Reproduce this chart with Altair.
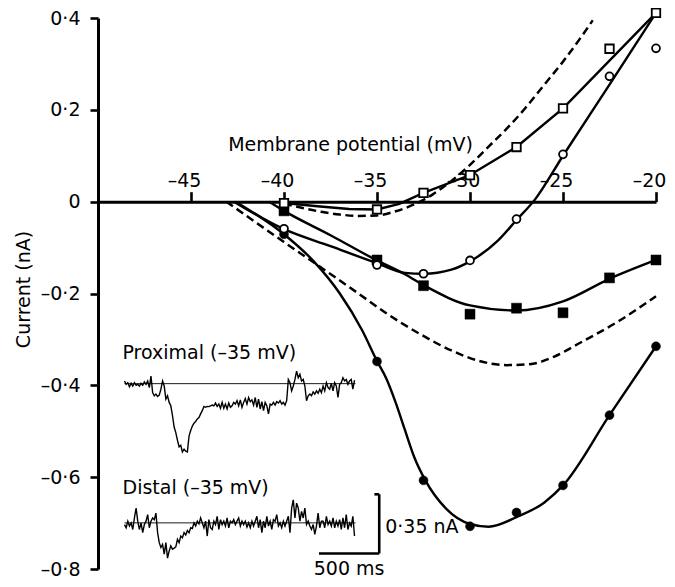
import altair as alt
import pandas as pd

FONT = "DejaVu Sans"
FS = 19
INK = "black"

# ---------------- measured points (membrane potential mV, current nA) ----------------
volt = [-40, -35, -32.5, -30, -27.5, -25, -22.5, -20]
open_square = [-0.003, -0.017, 0.019, 0.058, 0.119, 0.203, 0.333, 0.411]
open_circle = [-0.059, -0.138, -0.157, -0.128, -0.038, 0.103, 0.273, 0.334]
filled_square = [-0.020, -0.127, -0.183, -0.245, -0.232, -0.242, -0.166, -0.127]
filled_circle = [-0.071, -0.348, -0.607, -0.707, -0.677, -0.618, -0.465, -0.315]

# ---------------- drawn curves ----------------
sq_line_v = [-40, -38.2, -36.5, -35, -33.8, -32.5, -30, -27.5, -25, -20]
sq_line_i = [-0.003, -0.010, -0.016, -0.017, -0.005, 0.019, 0.058, 0.119, 0.203, 0.411]

oc_line_v = [-42.7, -40, -37.5, -35, -33.5, -32.5, -31, -30, -28.5, -27.5, -26.5, -25, -22.5, -20]
oc_line_i = [0, -0.06, -0.097, -0.134, -0.155, -0.157, -0.148, -0.130, -0.085, -0.04, 0.005, 0.10, 0.255, 0.411]

fs_line_v = [-40.8, -40, -37.5, -35, -33.5, -32.4, -30, -27.5, -25, -22.5, -20]
fs_line_i = [0, -0.02, -0.073, -0.128, -0.158, -0.184, -0.226, -0.237, -0.217, -0.168, -0.127]

fc_line_v = [-42.6, -40, -38.4, -37, -35.8, -35, -34.5, -34, -33.5, -33, -32.4, -31.3, -30, -29,
             -27.5, -26, -25, -22.5, -20]
fc_line_i = [0, -0.071, -0.13, -0.2, -0.28, -0.347, -0.385, -0.437, -0.497, -0.556, -0.607, -0.668,
             -0.702, -0.708, -0.687, -0.655, -0.618, -0.465, -0.315]

dash_hi_v = [-40, -39, -38, -37, -36, -35, -34, -33, -32.5, -32, -31, -30, -29, -28, -27, -26, -25,
             -24, -23.4]
dash_hi_i = [-0.004, -0.014, -0.022, -0.028, -0.031, -0.030, -0.021, -0.006, 0.004, 0.016, 0.045,
             0.08, 0.12, 0.16, 0.205, 0.255, 0.305, 0.36, 0.395]

dash_lo_v = [-43.1, -40, -38.2, -36, -34.5, -32.7, -31, -29.5, -28, -26.8, -25.5, -24.2, -22, -20]
dash_lo_i = [0, -0.088, -0.138, -0.2, -0.243, -0.288, -0.324, -0.347, -0.356, -0.354, -0.338,
             -0.31, -0.26, -0.206]

# ---------------- inset current traces (nA relative to baseline, sampled every 13.74 ms) ----------------
SAMPLE_MS = 13.74
proximal_nA = [
    0.016, -0.004, 0.006, -0.018, 0.002, -0.014, 0.006, -0.010, -0.004, -0.014,
    0.002, -0.010, 0.010, -0.004, 0.016, -0.023, 0.045, -0.053, -0.072, -0.062,
    -0.076, -0.068, -0.033, 0.016, -0.014, -0.092, -0.072, -0.111, -0.131, -0.189,
    -0.257, -0.290, -0.335, -0.374, -0.365, -0.404, -0.388, -0.400, -0.404, -0.310,
    -0.277, -0.251, -0.234, -0.224, -0.209, -0.201, -0.179, -0.160, -0.135, -0.140,
    -0.135, -0.136, -0.131, -0.127, -0.131, -0.115, -0.135, -0.121, -0.146, -0.111,
    -0.146, -0.121, -0.150, -0.115, -0.140, -0.131, -0.111, -0.121, -0.101, -0.131,
    -0.096, -0.140, -0.111, -0.088, -0.121, -0.082, -0.107, -0.096, -0.127, -0.082,
    -0.140, -0.092, -0.150, -0.107, -0.160, -0.111, -0.131, -0.179, -0.121, -0.127,
    -0.111, -0.127, -0.107, -0.115, -0.101, -0.121, -0.111, -0.127, -0.101, 0.025,
    0.006, -0.043, -0.014, 0.025, 0.074, 0.035, 0.055, 0.016, 0.025, -0.014,
    -0.101, -0.072, -0.062, -0.072, -0.049, -0.062, -0.043, -0.057, -0.033, -0.053,
    -0.014, -0.043, 0.006, -0.023, -0.033, 0.002, -0.043, 0.006, -0.014, -0.082,
    -0.004, 0.006, 0.035, 0.016, 0.025, -0.004, 0.016, 0.025, -0.033, 0.021,
]
distal_nA = [
    -0.010, -0.029, 0.010, -0.019, 0.000, -0.039, 0.029, 0.088, 0.010, -0.039,
    0.000, -0.058, -0.010, 0.010, 0.049, -0.029, 0.010, 0.029, 0.019, 0.058,
    -0.058, -0.117, -0.146, -0.127, -0.185, -0.117, -0.209, -0.166, -0.136, -0.156,
    -0.150, -0.142, -0.097, -0.117, -0.078, -0.088, -0.058, -0.072, -0.045, -0.058,
    -0.029, -0.033, 0.000, -0.019, 0.010, -0.006, 0.029, 0.000, -0.029, 0.010,
    -0.078, 0.019, -0.029, -0.039, 0.010, -0.010, 0.039, -0.039, 0.019, -0.010,
    0.010, -0.019, 0.029, -0.029, 0.010, 0.000, 0.019, -0.010, 0.010, 0.029,
    -0.019, 0.010, -0.010, 0.010, -0.025, 0.000, -0.029, 0.010, -0.019, 0.010,
    0.039, -0.029, 0.019, -0.058, 0.010, -0.029, 0.039, -0.019, 0.010, -0.039,
    0.019, 0.010, 0.049, -0.019, 0.000, -0.029, 0.010, -0.019, 0.010, 0.039,
    -0.058, 0.088, 0.136, 0.029, 0.117, 0.088, 0.010, 0.068, 0.029, 0.088,
    -0.010, 0.010, -0.019, -0.039, -0.010, -0.068, -0.019, 0.058, -0.029, 0.010,
    0.010, -0.029, 0.039, -0.010, 0.010, -0.019, 0.029, -0.029, 0.010, -0.019,
    0.019, -0.039, 0.029, -0.029, 0.049, -0.039, 0.000, -0.019, 0.039, -0.078,
]
trace_names = ["Proximal (–35 mV)", "Distal (–35 mV)"]
trace_baseline = [0.824, 0.0]        # vertical placement of each trace baseline (nA, inset scale)
trace_label_y = [0.967, 0.173]
trace_end_ms = 1918
bar_ms = 500
bar_nA = 0.35
bar_t = 2115
bar_top = 0.169

# ---------------- geometry ----------------
W, H = 558, 551
XDOM = [-50, -20]
YDOM = [-0.8, 0.4]
ZERO_PX = H * (YDOM[1] / (YDOM[1] - YDOM[0]))

xs = alt.Scale(domain=XDOM, nice=False, zero=False)
ys = alt.Scale(domain=YDOM, nice=False, zero=False)

x_axis = alt.Axis(
    orient="top", offset=-ZERO_PX,
    values=[-45, -40, -35, -30, -25, -20],
    labelExpr="'–' + format(abs(datum.value), 'd')",
    tickSize=10, tickWidth=2.6, tickColor=INK, domainWidth=3, domainColor=INK,
    labelFont=FONT, labelFontSize=FS, labelColor=INK, labelPadding=1, labelOffset=-7,
    labelOverlap=False, labelFlush=False, grid=False,
    titleFont=FONT, titleFontSize=FS, titleFontWeight="normal", titleColor=INK,
    titleX=252, titleY=-51, titleAlign="center", titleBaseline="alphabetic", titleAngle=0,
)
y_axis = alt.Axis(
    values=[-0.8, -0.6, -0.4, -0.2, 0, 0.2, 0.4],
    labelExpr="datum.value == 0 ? '0' : (datum.value < 0 ? '–' : '') + replace(format(abs(datum.value), '.1f'), '.', '·')",
    tickSize=8, tickWidth=2.6, tickColor=INK, domainWidth=3, domainColor=INK,
    labelFont=FONT, labelFontSize=FS, labelColor=INK, labelPadding=10,
    labelOverlap=False, labelFlush=False, grid=False,
    titleFont=FONT, titleFontSize=FS, titleFontWeight="normal", titleColor=INK,
    titleX=-75, titleY=271, titleAngle=270, titleAlign="center", titleBaseline="middle",
)
X = alt.X("v:Q", scale=xs, axis=x_axis, title="Membrane potential (mV)")
Y = alt.Y("i:Q", scale=ys, axis=y_axis, title="Current (nA)")


def frame(v, i, name):
    return pd.DataFrame({"v": v, "i": i, "s": name})


sq_line = alt.Chart(frame(sq_line_v, sq_line_i, "sq")).mark_line(
    color=INK, strokeWidth=2.4).encode(X, Y)
smooth = alt.Chart(pd.concat([
    frame(oc_line_v, oc_line_i, "oc"),
    frame(fs_line_v, fs_line_i, "fs"),
    frame(fc_line_v, fc_line_i, "fc"),
])).mark_line(color=INK, strokeWidth=2.4, interpolate="monotone").encode(X, Y, detail="s:N")
dashed = alt.Chart(pd.concat([
    frame(dash_hi_v, dash_hi_i, "hi"),
    frame(dash_lo_v, dash_lo_i, "lo"),
])).mark_line(color=INK, strokeWidth=2.5, strokeDash=[8, 4.5], interpolate="monotone").encode(
    X, Y, detail="s:N")

fsq = alt.Chart(frame(volt, filled_square, "fs")).mark_point(
    shape="square", filled=True, fill=INK, stroke=INK, strokeWidth=0.5, size=100, opacity=1).encode(X, Y)
fci = alt.Chart(frame(volt, filled_circle, "fc")).mark_point(
    shape="circle", filled=True, fill=INK, stroke=INK, strokeWidth=0.5, size=80, opacity=1).encode(X, Y)
osq = alt.Chart(frame(volt, open_square, "os")).mark_point(
    shape="square", filled=True, fill="white", stroke=INK, strokeWidth=1.8, size=72, opacity=1).encode(X, Y)
oci = alt.Chart(frame(volt, open_circle, "oc")).mark_point(
    shape="circle", filled=True, fill="white", stroke=INK, strokeWidth=1.8, size=62, opacity=1).encode(X, Y)

main = alt.layer(dashed, sq_line, smooth, fsq, fci, osq, oci)

# ---------------- inset ----------------
t_left = -220
t_right = 4413
tx = alt.Scale(domain=[t_left, t_right], nice=False, zero=False)
ty = alt.Scale(domain=[-0.273, 2.988], nice=False, zero=False)
TX = alt.X("t:Q", scale=tx, axis=None)
TY = alt.Y("y:Q", scale=ty, axis=None)

rows = []
for name, base, vals in zip(trace_names, trace_baseline, [proximal_nA, distal_nA]):
    for k, c in enumerate(vals):
        rows.append({"t": round(k * SAMPLE_MS, 2), "y": c + base, "trace": name})
traces_df = pd.DataFrame(rows)

traces = alt.Chart(traces_df).mark_line(color=INK, strokeWidth=1.4).encode(TX, TY, detail="trace:N")

base_df = pd.DataFrame({"t": [0, 0], "t2": [trace_end_ms] * 2, "y": trace_baseline})
baselines = alt.Chart(base_df).mark_rule(color=INK, strokeWidth=0.9).encode(TX, alt.X2("t2"), TY)

vbar_df = pd.DataFrame({"t": [bar_t], "y": [bar_top], "y2": [bar_top - bar_nA]})
vbar = alt.Chart(vbar_df).mark_rule(color=INK, strokeWidth=2.6).encode(TX, TY, alt.Y2("y2"))
hbar_df = pd.DataFrame({"t": [bar_t - bar_ms, bar_t - 40], "t2": [bar_t, bar_t],
                        "y": [bar_top - bar_nA, bar_top]})
hbar = alt.Chart(hbar_df).mark_rule(color=INK, strokeWidth=2.6).encode(TX, alt.X2("t2"), TY)

lab_df = pd.DataFrame({"t": [0, 0], "y": trace_label_y, "text": trace_names})
labels = alt.Chart(lab_df).mark_text(
    font=FONT, fontSize=FS, color=INK, align="left", baseline="alphabetic", dx=-2
).encode(TX, TY, text="text:N")

nA_df = pd.DataFrame({"t": [bar_t], "y": [bar_top - bar_nA / 2], "text": ["0·35 nA"]})
nA_lab = alt.Chart(nA_df).mark_text(
    font=FONT, fontSize=FS, color=INK, align="left", baseline="middle", dx=6, dy=3
).encode(TX, TY, text="text:N")
ms_df = pd.DataFrame({"t": [bar_t - bar_ms / 2], "y": [bar_top - bar_nA], "text": ["500 ms"]})
ms_lab = alt.Chart(ms_df).mark_text(
    font=FONT, fontSize=FS, color=INK, align="center", baseline="top", dy=7
).encode(TX, TY, text="text:N")

inset = alt.layer(baselines, traces, vbar, hbar, labels, nA_lab, ms_lab)

chart = alt.layer(main, inset).resolve_scale(x="independent", y="independent").properties(
    width=W, height=H,
    padding={"left": 90, "top": 10, "right": 11, "bottom": 10},
    autosize=alt.AutoSizeParams(type="none"),
    background="white",
).configure_view(stroke=None)

chart.save("out.html", embed_options={"renderer": "svg", "actions": False})
